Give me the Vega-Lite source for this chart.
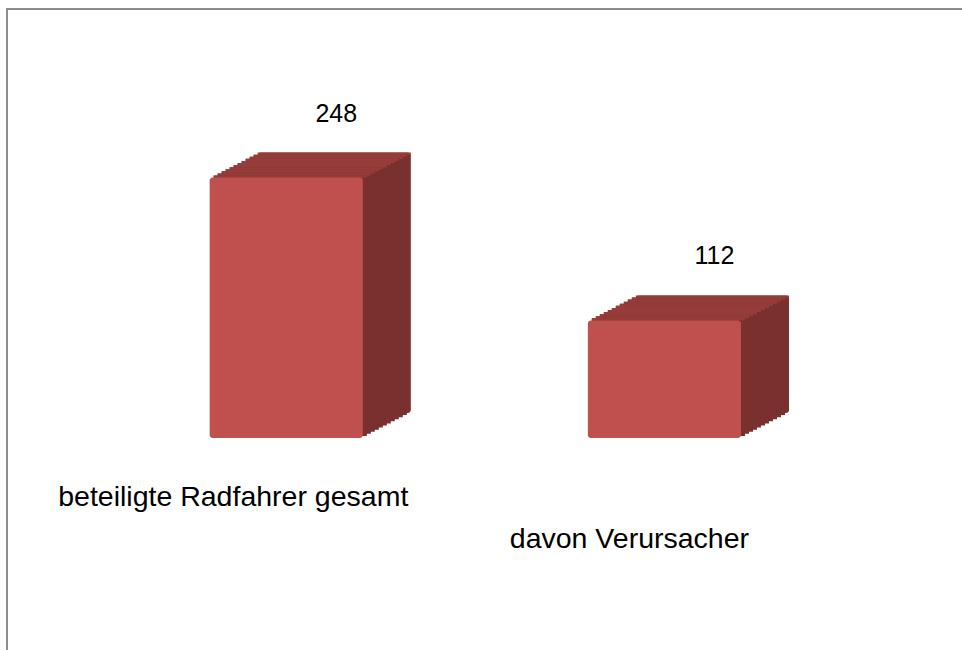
{
  "$schema": "https://vega.github.io/schema/vega-lite/v6.json",
  "width": 970,
  "height": 660,
  "padding": {"left": 7, "top": 9, "right": 0, "bottom": 0},
  "background": "white",
  "config": {
    "view": {"stroke": "#8C8C8C", "strokeWidth": 2},
    "text": {"font": "Liberation Sans", "color": "#000000"}
  },
  "data": {
    "values": [
      {"Kategorie": "beteiligte Radfahrer gesamt", "Anzahl": 248},
      {"Kategorie": "davon Verursacher", "Anzahl": 112}
    ]
  },
  "encoding": {
    "x": {
      "field": "Kategorie",
      "type": "nominal",
      "sort": null,
      "scale": {"paddingInner": 0.595, "paddingOuter": 0.58, "align": 0.462},
      "axis": null
    },
    "y": {
      "field": "Anzahl",
      "type": "quantitative",
      "scale": {"domain": [-220, 408.6], "nice": false, "zero": false},
      "axis": null
    }
  },
  "layer": [
    {"mark": {"type": "bar", "color": "#7A302F", "cornerRadius": 3, "xOffset": 48, "yOffset": -25, "y2Offset": -25}, "encoding": {"y2": {"datum": 0}}},
    {"mark": {"type": "bar", "color": "#7A302F", "xOffset": 44, "yOffset": -22.92, "y2Offset": -22.92}, "encoding": {"y2": {"datum": 0}}},
    {"mark": {"type": "bar", "color": "#7A302F", "xOffset": 40, "yOffset": -20.83, "y2Offset": -20.83}, "encoding": {"y2": {"datum": 0}}},
    {"mark": {"type": "bar", "color": "#7A302F", "xOffset": 36, "yOffset": -18.75, "y2Offset": -18.75}, "encoding": {"y2": {"datum": 0}}},
    {"mark": {"type": "bar", "color": "#7A302F", "xOffset": 32, "yOffset": -16.67, "y2Offset": -16.67}, "encoding": {"y2": {"datum": 0}}},
    {"mark": {"type": "bar", "color": "#7A302F", "xOffset": 28, "yOffset": -14.58, "y2Offset": -14.58}, "encoding": {"y2": {"datum": 0}}},
    {"mark": {"type": "bar", "color": "#7A302F", "xOffset": 24, "yOffset": -12.5, "y2Offset": -12.5}, "encoding": {"y2": {"datum": 0}}},
    {"mark": {"type": "bar", "color": "#7A302F", "xOffset": 20, "yOffset": -10.42, "y2Offset": -10.42}, "encoding": {"y2": {"datum": 0}}},
    {"mark": {"type": "bar", "color": "#7A302F", "xOffset": 16, "yOffset": -8.33, "y2Offset": -8.33}, "encoding": {"y2": {"datum": 0}}},
    {"mark": {"type": "bar", "color": "#7A302F", "xOffset": 12, "yOffset": -6.25, "y2Offset": -6.25}, "encoding": {"y2": {"datum": 0}}},
    {"mark": {"type": "bar", "color": "#7A302F", "xOffset": 8, "yOffset": -4.17, "y2Offset": -4.17}, "encoding": {"y2": {"datum": 0}}},
    {"mark": {"type": "bar", "color": "#7A302F", "xOffset": 4, "yOffset": -2.08, "y2Offset": -2.08}, "encoding": {"y2": {"datum": 0}}},
    {"mark": {"type": "bar", "color": "#963C3A", "xOffset": 48, "yOffset": -25, "y2Offset": -22.92}, "encoding": {"y2": {"field": "Anzahl"}}},
    {"mark": {"type": "bar", "color": "#963C3A", "xOffset": 44, "yOffset": -22.92, "y2Offset": -20.83}, "encoding": {"y2": {"field": "Anzahl"}}},
    {"mark": {"type": "bar", "color": "#963C3A", "xOffset": 40, "yOffset": -20.83, "y2Offset": -18.75}, "encoding": {"y2": {"field": "Anzahl"}}},
    {"mark": {"type": "bar", "color": "#963C3A", "xOffset": 36, "yOffset": -18.75, "y2Offset": -16.67}, "encoding": {"y2": {"field": "Anzahl"}}},
    {"mark": {"type": "bar", "color": "#963C3A", "xOffset": 32, "yOffset": -16.67, "y2Offset": -14.58}, "encoding": {"y2": {"field": "Anzahl"}}},
    {"mark": {"type": "bar", "color": "#963C3A", "xOffset": 28, "yOffset": -14.58, "y2Offset": -12.5}, "encoding": {"y2": {"field": "Anzahl"}}},
    {"mark": {"type": "bar", "color": "#963C3A", "xOffset": 24, "yOffset": -12.5, "y2Offset": -10.42}, "encoding": {"y2": {"field": "Anzahl"}}},
    {"mark": {"type": "bar", "color": "#963C3A", "xOffset": 20, "yOffset": -10.42, "y2Offset": -8.33}, "encoding": {"y2": {"field": "Anzahl"}}},
    {"mark": {"type": "bar", "color": "#963C3A", "xOffset": 16, "yOffset": -8.33, "y2Offset": -6.25}, "encoding": {"y2": {"field": "Anzahl"}}},
    {"mark": {"type": "bar", "color": "#963C3A", "xOffset": 12, "yOffset": -6.25, "y2Offset": -4.17}, "encoding": {"y2": {"field": "Anzahl"}}},
    {"mark": {"type": "bar", "color": "#963C3A", "xOffset": 8, "yOffset": -4.17, "y2Offset": -2.08}, "encoding": {"y2": {"field": "Anzahl"}}},
    {"mark": {"type": "bar", "color": "#963C3A", "xOffset": 4, "yOffset": -2.08, "y2Offset": 0}, "encoding": {"y2": {"field": "Anzahl"}}},
    {"mark": {"type": "bar", "color": "#C0504D", "cornerRadius": 3}, "encoding": {"y2": {"datum": 0}}},
    {
      "mark": {"type": "text", "fontSize": 25, "dx": 50, "dy": -64, "align": "center", "baseline": "middle"},
      "encoding": {"text": {"field": "Anzahl", "type": "quantitative"}}
    },
    {
      "transform": [{"filter": "datum.Kategorie === 'beteiligte Radfahrer gesamt'"}],
      "mark": {"type": "text", "fontSize": 28.5, "dx": -53, "dy": 59, "align": "center", "baseline": "middle"},
      "encoding": {"y": {"datum": 0}, "text": {"field": "Kategorie", "type": "nominal"}}
    },
    {
      "transform": [{"filter": "datum.Kategorie === 'davon Verursacher'"}],
      "mark": {"type": "text", "fontSize": 28.5, "dx": -35, "dy": 101, "align": "center", "baseline": "middle"},
      "encoding": {"y": {"datum": 0}, "text": {"field": "Kategorie", "type": "nominal"}}
    }
  ]
}
